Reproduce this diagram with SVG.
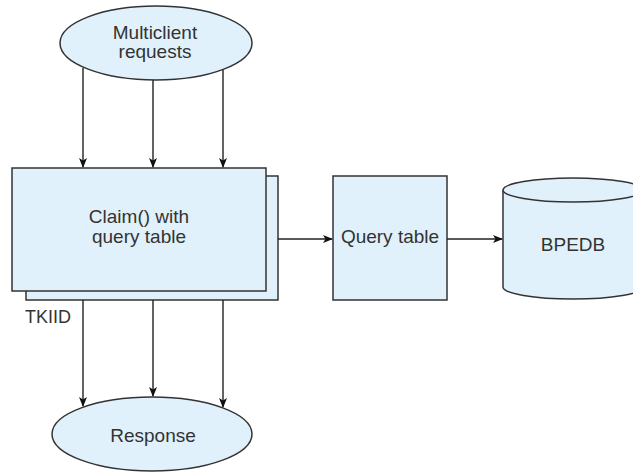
<svg xmlns="http://www.w3.org/2000/svg" width="633" height="472" viewBox="0 0 633 472">
<defs>
<marker id="ah" markerWidth="10" markerHeight="8" refX="9" refY="4" orient="auto" markerUnits="userSpaceOnUse">
<path d="M0,0 L10,4 L0,8 L2.5,4 Z" fill="#111"/>
</marker>
<style>
.shape{fill:#e0f1fb;stroke:#333;stroke-width:1.5}
.lbl{font-family:"Liberation Sans",Arial,sans-serif;font-size:19px;fill:#333;text-anchor:middle}
.conn{stroke:#222;stroke-width:1.4;fill:none;marker-end:url(#ah)}
</style>
</defs>
<rect width="633" height="472" fill="#fff"/>
<g id="multiclient">
<ellipse class="shape" cx="156" cy="43" rx="96" ry="37"/>
<text class="lbl" x="155" y="39">Multiclient</text>
<text class="lbl" x="155" y="58">requests</text>
</g>
<g id="claim">
<rect class="shape" x="26" y="176" width="252" height="124"/>
<rect class="shape" x="12" y="168" width="254" height="123"/>
<text class="lbl" x="139" y="223">Claim() with</text>
<text class="lbl" x="139" y="243">query table</text>
</g>
<g id="querytable">
<rect class="shape" x="333" y="176" width="114" height="124"/>
<text class="lbl" x="390" y="243">Query table</text>
</g>
<g id="bpedb">
<path class="shape" d="M503,190 L503,287 A70,12 0 0 0 643,287 L643,190"/>
<ellipse class="shape" cx="573" cy="190" rx="70" ry="12"/>
<text class="lbl" x="573" y="251">BPEDB</text>
</g>
<g id="response">
<ellipse class="shape" cx="152" cy="434" rx="100" ry="37"/>
<text class="lbl" x="153" y="442">Response</text>
</g>
<g id="tkiid-label">
<text class="lbl" x="25" y="323" style="text-anchor:start;font-size:18px">TKIID</text>
</g>
<g id="connectors">
<line class="conn" x1="83" y1="68" x2="83" y2="167"/>
<line class="conn" x1="153" y1="80" x2="153" y2="167"/>
<line class="conn" x1="223" y1="70" x2="223" y2="167"/>
<line class="conn" x1="278" y1="239" x2="332" y2="239"/>
<line class="conn" x1="447" y1="239" x2="502" y2="239"/>
<line class="conn" x1="83" y1="300" x2="83" y2="406"/>
<line class="conn" x1="153" y1="300" x2="153" y2="396"/>
<line class="conn" x1="223" y1="300" x2="223" y2="407"/>
</g>
</svg>
